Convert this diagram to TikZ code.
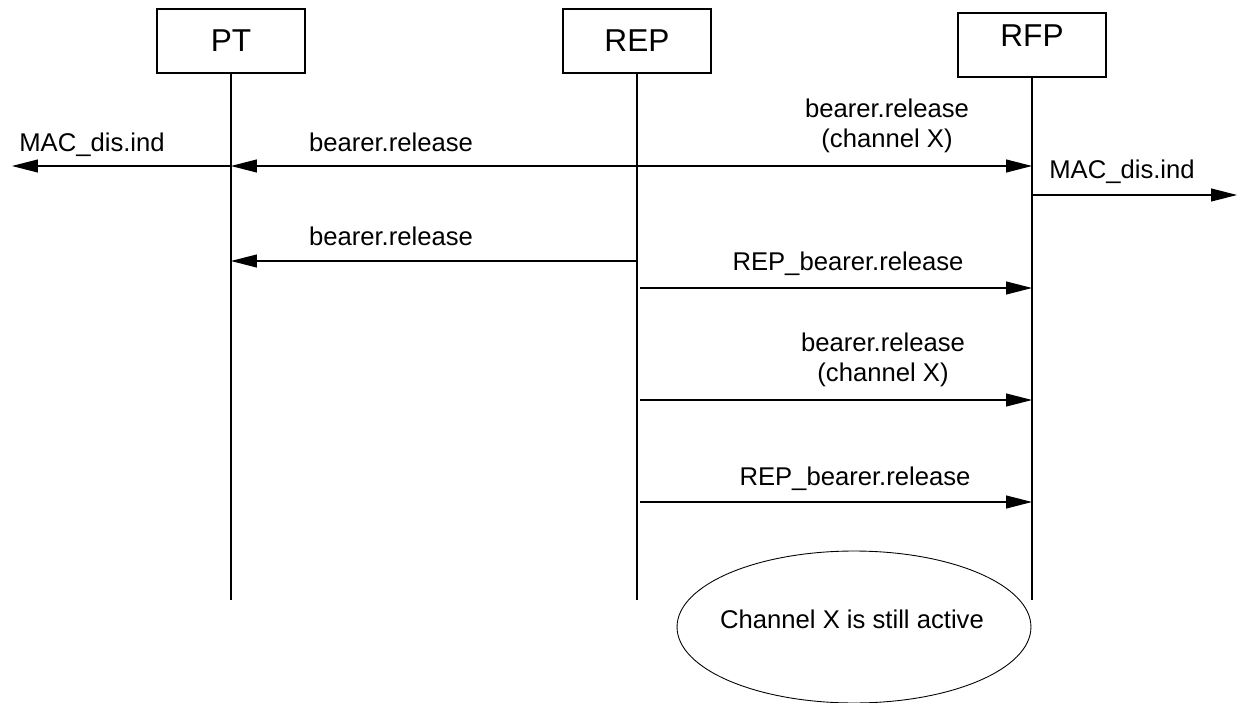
\documentclass[tikz,border=0pt]{standalone}
\usepackage{fontspec}
\setmainfont{Liberation Sans}
\usetikzlibrary{arrows.meta}

\begin{document}
\begin{tikzpicture}[x=0.02cm, y=-0.02cm,
        entity/.style={draw, line width=0.9pt, minimum width=2.96cm, minimum height=1.28cm, font=\fontsize{18}{21}\selectfont},
        life/.style={line width=0.6pt},
        msg/.style={line width=0.6pt, -{Triangle[length=5.2mm, width=2.6mm]}},
        lbl/.style={inner sep=0pt, font=\fontsize{14.6}{17}\selectfont}]
        \useasboundingbox (0,0) rectangle (1242,703);

        \node[entity] (PT) at (231,41) {PT};
        \node[entity] (REP) at (637,41) {REP};
        \node[entity, text depth=11pt] (RFP) at (1032,45) {RFP};

        \coordinate (PTe) at (231,600);
        \coordinate (REPe) at (637,600);
        \coordinate (RFPe) at (1032,600);

        \draw[life] (PT.south) -- (PTe);
        \draw[life] (REP.south) -- (REPe);
        \draw[life] (RFP.south) -- (RFPe);

        \coordinate (L1) at (12,166);
        \coordinate (P1) at (231,166);
        \coordinate (R1) at (637,166);
        \coordinate (F1) at (1032,166);
        \coordinate (F2) at (1032,195);
        \coordinate (X2) at (1237,195);
        \coordinate (R3) at (637,261);
        \coordinate (P3) at (231,261);
        \coordinate (R4) at (640,288);
        \coordinate (F4) at (1032,288);
        \coordinate (R5) at (640,400);
        \coordinate (F5) at (1032,400);
        \coordinate (R6) at (640,502);
        \coordinate (F6) at (1032,502);

        \draw[msg] (P1) -- (L1);
        \draw[msg] (R1) -- (P1);
        \draw[msg] (R1) -- (F1);
        \draw[msg] (F2) -- (X2);
        \draw[msg] (R3) -- (P3);
        \draw[msg] (R4) -- (F4);
        \draw[msg] (R5) -- (F5);
        \draw[msg] (R6) -- (F6);

        \node[lbl, anchor=base] (macL) at (92,151) {MAC\_dis.ind};
        \node[lbl, anchor=base] (rel1) at (391,151) {bearer.release};
        \node[lbl, align=center] (relX1) at (887,126) {bearer.release\\(channel X)};
        \node[lbl, anchor=base] (macR) at (1122,178) {MAC\_dis.ind};
        \node[lbl, anchor=base] (rel3) at (391,245) {bearer.release};
        \node[lbl, anchor=base] (rep4) at (848,270) {REP\_bearer.release};
        \node[lbl, align=center] (relX5) at (883,360) {bearer.release\\(channel X)};
        \node[lbl, anchor=base] (rep6) at (855,485) {REP\_bearer.release};

        % state bubble
        \coordinate (S) at (854,627);
        \draw[line width=0.5pt] (S) ellipse [x radius=3.54cm, y radius=1.52cm];
        \node[lbl, anchor=base] (active) at (852,628) {Channel X is still active};
    \end{tikzpicture}
\end{document}
